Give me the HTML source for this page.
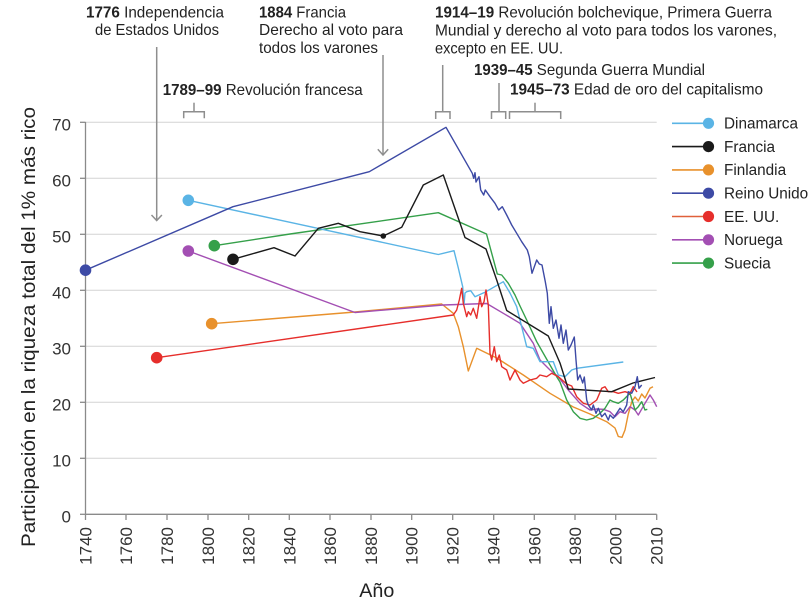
<!DOCTYPE html>
<html><head><meta charset="utf-8"><style>
html,body{margin:0;padding:0;background:#fff;}
svg{display:block;font-family:"Liberation Sans",sans-serif;}
</style></head><body>
<svg width="810" height="611" viewBox="0 0 810 611" xmlns="http://www.w3.org/2000/svg">
<!-- gridlines -->
<g stroke="#d4d4d4" stroke-width="1">
<line x1="85.5" y1="122.3" x2="656.7" y2="122.3"/>
<line x1="85.5" y1="178.3" x2="656.7" y2="178.3"/>
<line x1="85.5" y1="234.3" x2="656.7" y2="234.3"/>
<line x1="85.5" y1="290.3" x2="656.7" y2="290.3"/>
<line x1="85.5" y1="346.3" x2="656.7" y2="346.3"/>
<line x1="85.5" y1="402.3" x2="656.7" y2="402.3"/>
<line x1="85.5" y1="458.3" x2="656.7" y2="458.3"/>
</g>
<!-- axes -->
<g stroke="#8a8a8a" stroke-width="1.3" fill="none">
<line x1="85.5" y1="122" x2="85.5" y2="514.3"/>
<line x1="85.5" y1="514.3" x2="656.7" y2="514.3"/>
<line x1="80" y1="122.3" x2="85.5" y2="122.3"/>
<line x1="80" y1="178.3" x2="85.5" y2="178.3"/>
<line x1="80" y1="234.3" x2="85.5" y2="234.3"/>
<line x1="80" y1="290.3" x2="85.5" y2="290.3"/>
<line x1="80" y1="346.3" x2="85.5" y2="346.3"/>
<line x1="80" y1="402.3" x2="85.5" y2="402.3"/>
<line x1="80" y1="458.3" x2="85.5" y2="458.3"/>
<line x1="80" y1="514.3" x2="85.5" y2="514.3"/>
<line x1="85.5" y1="514.3" x2="85.5" y2="520"/>
<line x1="126" y1="514.3" x2="126" y2="520"/>
<line x1="167" y1="514.3" x2="167" y2="520"/>
<line x1="208" y1="514.3" x2="208" y2="520"/>
<line x1="248.7" y1="514.3" x2="248.7" y2="520"/>
<line x1="289.3" y1="514.3" x2="289.3" y2="520"/>
<line x1="330" y1="514.3" x2="330" y2="520"/>
<line x1="371" y1="514.3" x2="371" y2="520"/>
<line x1="411.7" y1="514.3" x2="411.7" y2="520"/>
<line x1="452.7" y1="514.3" x2="452.7" y2="520"/>
<line x1="493.7" y1="514.3" x2="493.7" y2="520"/>
<line x1="534.3" y1="514.3" x2="534.3" y2="520"/>
<line x1="575" y1="514.3" x2="575" y2="520"/>
<line x1="615.7" y1="514.3" x2="615.7" y2="520"/>
<line x1="656.7" y1="514.3" x2="656.7" y2="520"/>
</g>
<!-- y tick labels -->
<g font-size="17" fill="#333" text-anchor="end">
<text x="71" y="130.3">70</text>
<text x="71" y="186.3">60</text>
<text x="71" y="242.3">50</text>
<text x="71" y="298.3">40</text>
<text x="71" y="354.3">30</text>
<text x="71" y="410.3">20</text>
<text x="71" y="466.3">10</text>
<text x="71" y="522.3">0</text>
</g>
<!-- x tick labels -->
<g font-size="17" fill="#333" text-anchor="end">
<text transform="translate(91.5,527) rotate(-90)">1740</text>
<text transform="translate(132,527) rotate(-90)">1760</text>
<text transform="translate(173,527) rotate(-90)">1780</text>
<text transform="translate(214,527) rotate(-90)">1800</text>
<text transform="translate(254.7,527) rotate(-90)">1820</text>
<text transform="translate(295.3,527) rotate(-90)">1840</text>
<text transform="translate(336,527) rotate(-90)">1860</text>
<text transform="translate(377,527) rotate(-90)">1880</text>
<text transform="translate(417.7,527) rotate(-90)">1900</text>
<text transform="translate(458.7,527) rotate(-90)">1920</text>
<text transform="translate(499.7,527) rotate(-90)">1940</text>
<text transform="translate(540.3,527) rotate(-90)">1960</text>
<text transform="translate(581,527) rotate(-90)">1980</text>
<text transform="translate(621.7,527) rotate(-90)">2000</text>
<text transform="translate(662.7,527) rotate(-90)">2010</text>
</g>
<!-- axis titles -->
<text transform="translate(35,327) rotate(-90)" font-size="19" fill="#222" text-anchor="middle" textLength="440" lengthAdjust="spacingAndGlyphs">Participación en la riqueza total del 1% más rico</text>
<text x="376.8" y="597" font-size="19" fill="#222" text-anchor="middle" textLength="35" lengthAdjust="spacingAndGlyphs">Año</text>

<!-- annotations -->
<g stroke="#8e8e8e" stroke-width="1.5" fill="none">
<line x1="156.7" y1="47" x2="156.7" y2="220"/>
<polyline points="151.5,215 156.7,220.5 161.9,215"/>
<line x1="383" y1="55" x2="383" y2="154.5"/>
<polyline points="377.8,149.3 383,155 388.2,149.3"/>
<line x1="194" y1="102.7" x2="194" y2="111.7"/>
<polyline points="183.7,118.3 183.7,111.7 204.3,111.7 204.3,118.3"/>
<line x1="442.7" y1="65" x2="442.7" y2="111.7"/>
<polyline points="435.7,119 435.7,111.7 450,111.7 450,119"/>
<line x1="499" y1="83" x2="499" y2="111.7"/>
<polyline points="491.5,119 491.5,111.7 505.7,111.7 505.7,119"/>
<line x1="535" y1="102.7" x2="535" y2="111.7"/>
<polyline points="509.5,119 509.5,111.7 560.7,111.7 560.7,119"/>
</g>
<g font-size="16" fill="#222">
<text x="86" y="17.3" textLength="138" lengthAdjust="spacingAndGlyphs"><tspan font-weight="bold">1776</tspan> Independencia</text>
<text x="95" y="35" textLength="124" lengthAdjust="spacingAndGlyphs">de Estados Unidos</text>
<text x="259" y="17.3" textLength="87" lengthAdjust="spacingAndGlyphs"><tspan font-weight="bold">1884</tspan> Francia</text>
<text x="259" y="35" textLength="144" lengthAdjust="spacingAndGlyphs">Derecho al voto para</text>
<text x="259" y="53" textLength="119" lengthAdjust="spacingAndGlyphs">todos los varones</text>
<text x="162.7" y="95" textLength="200" lengthAdjust="spacingAndGlyphs"><tspan font-weight="bold">1789–99</tspan> Revolución francesa</text>
<text x="435" y="17.5" textLength="337" lengthAdjust="spacingAndGlyphs"><tspan font-weight="bold">1914–19</tspan> Revolución bolchevique, Primera Guerra</text>
<text x="435" y="35.5" textLength="342" lengthAdjust="spacingAndGlyphs">Mundial y derecho al voto para todos los varones,</text>
<text x="435" y="53.3" textLength="128" lengthAdjust="spacingAndGlyphs">excepto en EE. UU.</text>
<text x="474" y="75" textLength="231" lengthAdjust="spacingAndGlyphs"><tspan font-weight="bold">1939–45</tspan> Segunda Guerra Mundial</text>
<text x="510" y="94.3" textLength="253" lengthAdjust="spacingAndGlyphs"><tspan font-weight="bold">1945–73</tspan> Edad de oro del capitalismo</text>
</g>

<!-- series -->
<g fill="none" stroke-width="1.4" stroke-linejoin="round">
<!-- Finlandia -->
<polyline stroke="#e8912c" points="211.7,323.7 355,312 441.7,304 453.3,313.3 458.3,326.7 463.3,346.7 468.3,371 476.7,348.3 496.7,358 523.3,375 550,393.3 573.3,407 590,414 606.7,421.7 615,428 618.3,436.5 622,437.3 625,430 628.3,414 631.7,402 635,397 638.3,401 641.7,394 645,398 650,388.3 653,386.7"/>
<!-- Noruega -->
<polyline stroke="#a34fb3" points="188.3,251 355,312.5 443.3,305 486.7,303.5 503.3,313.3 520,323.3 533.3,343.3 540,360 550,370 558.3,376.7 568.3,390 580,403.3 590,410 596.7,409 603.3,409.3 610,411.7 615,416.7 620,411.7 625,413.3 630,406.7 635,410 638.3,415 645,403.3 650,395 653.3,400 656.7,406.7"/>
<!-- Suecia -->
<polyline stroke="#35a04a" points="214.3,245.7 290,234 438.3,212.7 486.5,234 497.3,274 501.7,275 508.3,283.3 515,295 520,306 526.7,320 536.7,341.7 550,365 556.7,376.7 560,382 566.7,400 573.3,411.7 580,418.3 586.7,420 593.3,418.3 600,413.3 605,408.3 610,400 613.3,401.7 618.3,403.3 623.3,400 630,393.3 635,410 638.3,406.7 641.7,401.7 645,410 647.3,409.3"/>
<!-- Dinamarca -->
<polyline stroke="#5ab4e5" points="188.3,200.3 290,222.3 438.3,254.5 454,250.7 458.3,268 462.7,286.7 464,305 465,293 466.7,291.7 470.7,290.7 475,296.7 486,291.7 503.3,281.7 510,293 516.7,306.7 520,320 526.7,346.7 533.3,348.3 540,361.7 553.3,361.7 558.3,375 565,376.7 571.7,370 576.7,368.3 623.3,362"/>
<!-- EE. UU. -->
<polyline stroke="#e62e2b" points="156.7,357.7 453.3,315 456.7,310 459.3,300 461.7,288.3 463.3,303.3 466.7,316.7 468.3,311.7 470.7,315 473.3,308.3 476.7,318.3 480,296.7 481.7,306.7 484,301.7 486,290 488.3,305 490,353.3 491.7,360 494.3,346.7 496.7,361.7 499.3,355 501.7,366.7 506.7,370 510,380 515,370 520,380 523.3,383.3 530,380 536.7,378.3 540,375 546.7,376.7 551.7,373.3 558.3,376.7 566.7,384 571.7,386 576.7,396.7 583.3,403.3 590,405 596.7,400 601.7,388.3 605,386.7 608.3,391.7 613.3,391.7 618.3,393.3 625,391.7 630,393.3 633.3,386.7 637,392"/>
<!-- Francia -->
<polyline stroke="#1a1a1a" points="233,259.3 274,247.7 295,256 318.3,228.3 338.3,223.3 360,231.7 383.3,236 401.7,227.3 423.3,185 443.3,175 465,237.5 486,249 496.7,280 506.7,310.5 548.3,336 560,363 568.3,389 611.7,391.7 633,383 655,377.5"/>
<!-- Reino Unido -->
<polyline stroke="#3d4aa5" points="85.5,270.2 233,206.7 369.3,171.7 446,127.3 472.3,173.3 473.7,178.3 475,172.7 476,182 479,176.7 480.7,190 483.7,195 485.3,190 490,196.7 495,203.3 498.7,210 502.3,206.7 506.7,215 511.7,225 516.7,233.3 521.7,241.7 527.3,250 529.3,256.7 532,273.3 536.7,260 539.3,264 542,265 545.3,281.7 547.3,293.3 549.3,323.3 551,306.7 553.3,328.3 556,320 559,338.3 561,325 563.3,343.3 566,330 568.3,350 571,345 574.3,337 576,360 577.7,380 580,375 582.7,383 584.3,377 586.7,400 588.3,405 591.7,410 593.3,405 596,413.3 598.3,408.3 601.7,416.7 605,413.3 608.3,420 610,415 613.3,418.3 616.7,413.3 620,408.3 623.3,411.7 626.7,405 628.3,391.7 631.7,393.3 635,386.7 637.3,376.7 639,388.3 641.7,385"/>
</g>
<!-- start dots -->
<circle cx="85.5" cy="270.2" r="5.8" fill="#3d4aa5"/>
<circle cx="188.3" cy="200.3" r="5.8" fill="#5ab4e5"/>
<circle cx="188.3" cy="251" r="5.8" fill="#a34fb3"/>
<circle cx="214.3" cy="245.7" r="5.8" fill="#35a04a"/>
<circle cx="211.7" cy="323.7" r="5.8" fill="#e8912c"/>
<circle cx="233" cy="259.3" r="5.8" fill="#1a1a1a"/>
<circle cx="156.7" cy="357.7" r="5.8" fill="#e62e2b"/>
<circle cx="383.3" cy="236" r="2.8" fill="#1a1a1a"/>

<!-- legend -->
<g stroke-width="1.6">
<line x1="672" y1="123.3" x2="706" y2="123.3" stroke="#5ab4e5"/>
<line x1="672" y1="146.6" x2="706" y2="146.6" stroke="#1a1a1a"/>
<line x1="672" y1="169.9" x2="706" y2="169.9" stroke="#e8912c"/>
<line x1="672" y1="193.2" x2="706" y2="193.2" stroke="#3d4aa5"/>
<line x1="672" y1="216.5" x2="706" y2="216.5" stroke="#e0603a"/>
<line x1="672" y1="239.8" x2="706" y2="239.8" stroke="#a34fb3"/>
<line x1="672" y1="263.1" x2="706" y2="263.1" stroke="#35a04a"/>
</g>
<circle cx="708.5" cy="123.3" r="5.6" fill="#5ab4e5"/>
<circle cx="708.5" cy="146.6" r="5.6" fill="#1a1a1a"/>
<circle cx="708.5" cy="169.9" r="5.6" fill="#e8912c"/>
<circle cx="708.5" cy="193.2" r="5.6" fill="#3d4aa5"/>
<circle cx="708.5" cy="216.5" r="5.6" fill="#e62e2b"/>
<circle cx="708.5" cy="239.8" r="5.6" fill="#a34fb3"/>
<circle cx="708.5" cy="263.1" r="5.6" fill="#35a04a"/>
<g font-size="15.3" fill="#222">
<text x="724" y="128.6">Dinamarca</text>
<text x="724" y="151.9">Francia</text>
<text x="724" y="175.2">Finlandia</text>
<text x="724" y="198.5">Reino Unido</text>
<text x="724" y="221.8">EE. UU.</text>
<text x="724" y="245.1">Noruega</text>
<text x="724" y="268.4">Suecia</text>
</g>
</svg>
</body></html>
